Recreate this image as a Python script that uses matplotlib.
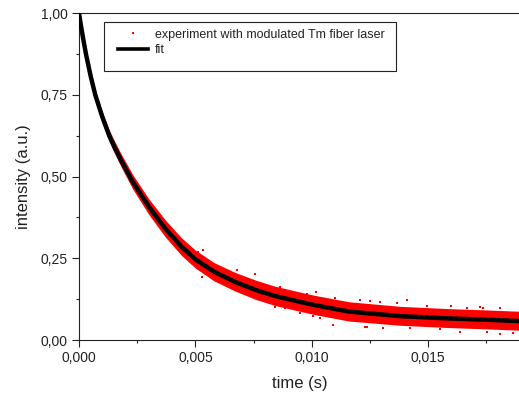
import matplotlib
matplotlib.use('Agg')
import matplotlib.pyplot as plt
from matplotlib.lines import Line2D
from matplotlib.patches import Rectangle
from matplotlib.ticker import FixedLocator, MultipleLocator, FuncFormatter

# --- data ---
fit_t = [0.0, 0.0001, 0.0002, 0.0003, 0.0005, 0.0007, 0.0010, 0.0013, 0.0015,
         0.0018, 0.0023, 0.0030, 0.0037, 0.0044, 0.0050, 0.0058, 0.0067,
         0.0076, 0.0084, 0.0093, 0.0101, 0.0116, 0.0138, 0.0159, 0.0175, 0.0189]
fit_i = [1.0, 0.955, 0.914, 0.875, 0.808, 0.750, 0.683, 0.625, 0.594,
         0.551, 0.485, 0.408, 0.342, 0.286, 0.247, 0.209, 0.178,
         0.153, 0.135, 0.120, 0.107, 0.087, 0.073, 0.066, 0.062, 0.058]

# dense part of the measured band (upper / lower edge at fit_t)
exp_upper = [1.0, 0.962, 0.922, 0.885, 0.820, 0.764, 0.699, 0.643, 0.613,
             0.571, 0.507, 0.432, 0.368, 0.313, 0.275, 0.237, 0.207,
             0.183, 0.165, 0.150, 0.137, 0.117, 0.103, 0.096, 0.092, 0.088]
exp_lower = [0.99, 0.946, 0.904, 0.864, 0.795, 0.736, 0.667, 0.607, 0.575,
             0.531, 0.463, 0.384, 0.316, 0.259, 0.220, 0.181, 0.150,
             0.124, 0.106, 0.091, 0.078, 0.058, 0.045, 0.038, 0.034, 0.030]

# stray measurement points outside the dense band
stray_t = [0.00534, 0.00677, 0.00756, 0.00863, 0.00527, 0.00842, 0.00885,
           0.01006, 0.01018, 0.01207, 0.01293, 0.0141, 0.0160, 0.01737,
           0.0181, 0.01035, 0.01229, 0.01422, 0.01551, 0.01751, 0.01864,
           0.00512, 0.00978, 0.0110, 0.0125, 0.01365, 0.01494, 0.01665,
           0.01723, 0.01092, 0.01307, 0.01637, 0.01808, 0.00949, 0.01236]
stray_i = [0.275, 0.214, 0.202, 0.163, 0.194, 0.102, 0.097,
           0.073, 0.146, 0.122, 0.117, 0.122, 0.105, 0.099,
           0.097, 0.066, 0.041, 0.036, 0.034, 0.025, 0.020,
           0.270, 0.140, 0.128, 0.119, 0.112, 0.105, 0.099,
           0.101, 0.046, 0.036, 0.025, 0.017, 0.082, 0.041]

x_ticks = [0.0, 0.005, 0.010, 0.015]
y_ticks = [0.0, 0.25, 0.50, 0.75, 1.00]

labels = ['experiment with modulated Tm fiber laser', 'fit']

plt.rcParams['font.family'] = ['Liberation Sans', 'DejaVu Sans']

fig = plt.figure(figsize=(5.19, 4.0), dpi=100)
ax = fig.add_axes([79 / 519, 60 / 400, 440 / 519, 326.7 / 400])

ax.fill_between(fit_t, exp_lower, exp_upper, color='#ff0000', lw=0, zorder=2)
ax.scatter(stray_t, stray_i, marker='s', s=3.5, color='#ff0000', lw=0, zorder=2)
ax.plot(fit_t, fit_i, color='black', lw=3.2, zorder=3, solid_joinstyle='round')

ax.set_xlim(0, 0.0189)
ax.set_ylim(0, 1.0)

ax.xaxis.set_major_locator(FixedLocator(x_ticks))
ax.xaxis.set_minor_locator(MultipleLocator(0.0025))
ax.yaxis.set_major_locator(FixedLocator(y_ticks))
ax.yaxis.set_minor_locator(MultipleLocator(0.125))
ax.xaxis.set_major_formatter(FuncFormatter(lambda v, p: f"{v:.3f}".replace('.', ',')))
ax.yaxis.set_major_formatter(FuncFormatter(lambda v, p: f"{v:.2f}".replace('.', ',')))

ax.tick_params(which='major', direction='out', length=5, width=0.8, labelsize=10,
               pad=3, color='#222222', labelcolor='#222222')
ax.tick_params(which='minor', direction='out', length=2.5, width=0.8, color='#222222')
ax.tick_params(top=False, right=False)
for side in ('left', 'bottom', 'top'):
    ax.spines[side].set_linewidth(0.8)
    ax.spines[side].set_color('#222222')
ax.spines['right'].set_visible(False)

ax.set_xlabel('time (s)', fontsize=12, color='#222222')
ax.set_ylabel('intensity (a.u.)', fontsize=12, color='#222222')
ax.xaxis.set_label_coords(0.501, -0.132)
ax.xaxis.label.set_va('center')
ax.yaxis.set_label_coords(-0.126, 0.5)
ax.yaxis.label.set_va('center')

# legend (frame drawn separately, it is taller than the entries)
ax.add_patch(Rectangle((0.0568, 0.823), 0.6637, 0.150, transform=ax.transAxes,
                       fill=True, facecolor='white', edgecolor='#222222', lw=0.8, zorder=4))
handles = [Line2D([], [], ls='none', marker='s', ms=2.0, color='#ff0000', mew=0),
           Line2D([], [], color='black', lw=2.6)]
leg = ax.legend(handles, labels, loc='upper left', bbox_to_anchor=(0.0886, 0.953),
                frameon=False, fontsize=9, borderpad=0, handlelength=2.4,
                handletextpad=0.55, labelspacing=0.3, borderaxespad=0)
leg.set_zorder(5)
for t in leg.get_texts():
    t.set_color('#222222')

fig.savefig('out.png', dpi=100)
